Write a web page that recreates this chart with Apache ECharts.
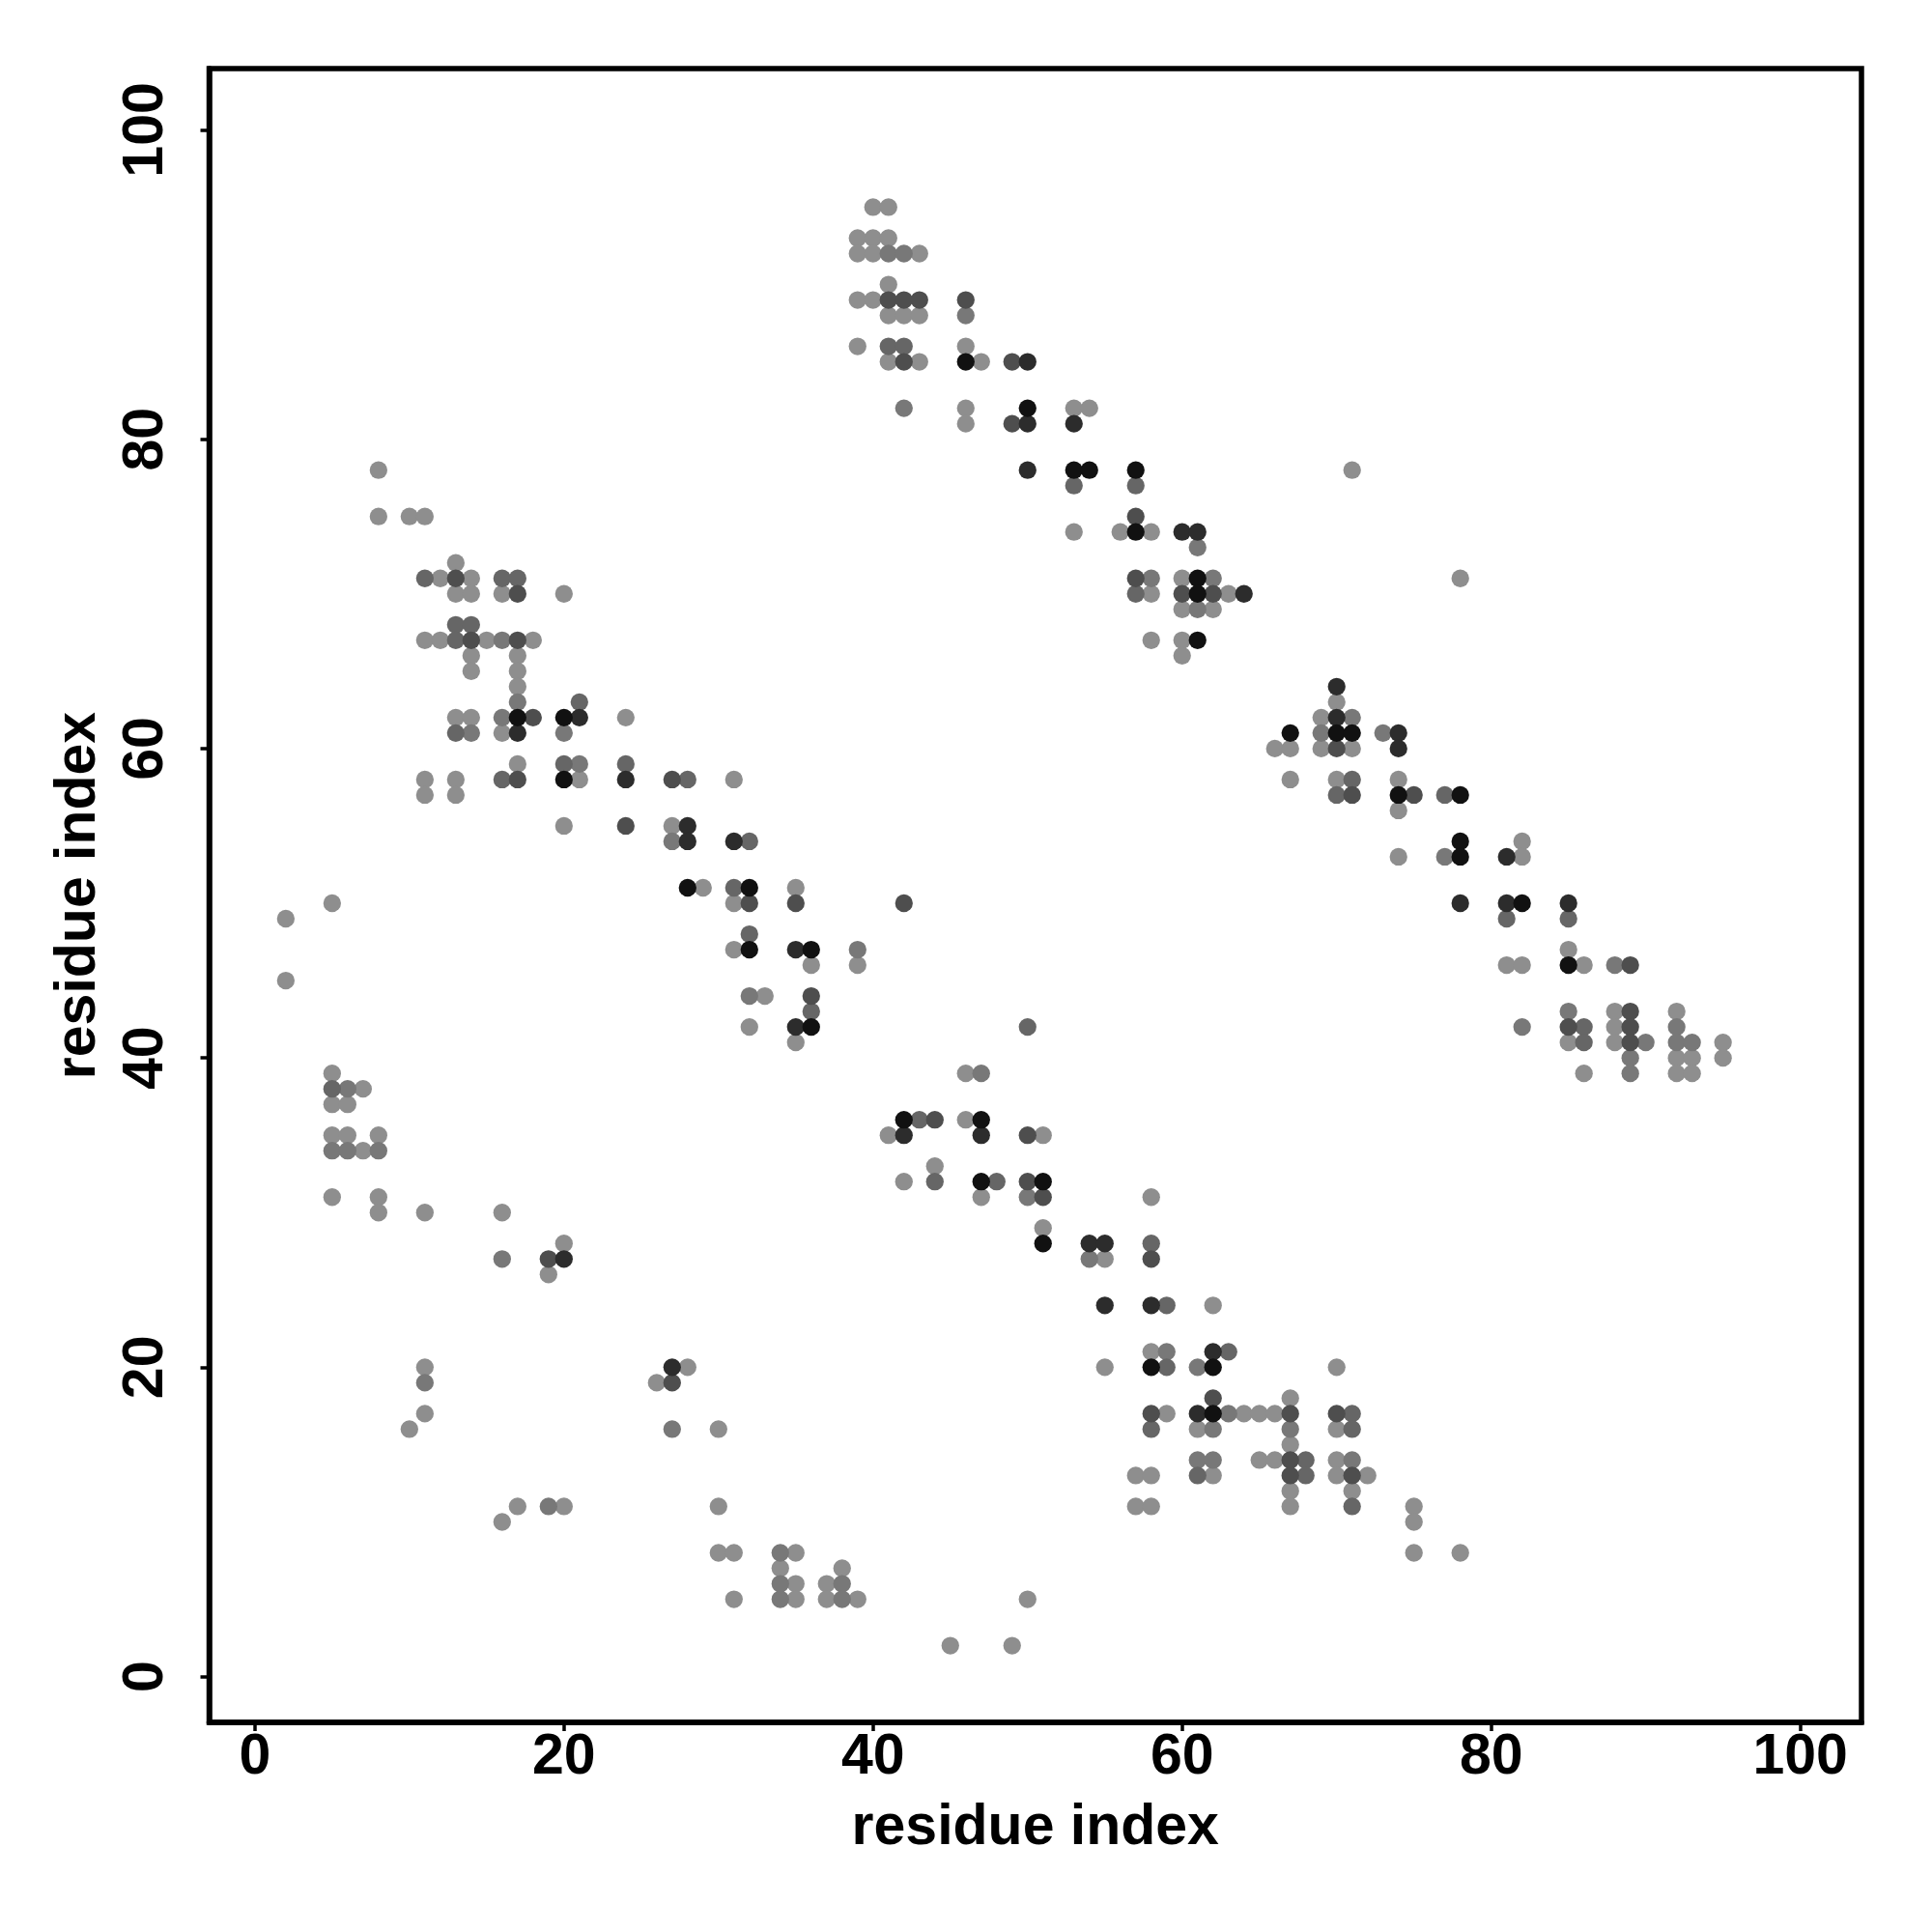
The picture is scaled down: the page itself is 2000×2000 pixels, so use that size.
<!DOCTYPE html>
<html>
<head>
<meta charset="utf-8">
<script src="https://cdn.jsdelivr.net/npm/echarts@6/dist/echarts.min.js"></script>
<style>
  html, body { margin: 0; padding: 0; background: #fff; }
  #chart { width: 2000px; height: 2000px; }
</style>
</head>
<body>
<div id="chart"></div>
<script>
// residue pairs (i, j) grouped by contact shade (1 = lightest grey ... 6 = black)
const shade1 = [
  [40,95],[41,95],[39,93],[40,93],[41,93],[39,92],[40,92],[43,92],[41,90],[39,89],[40,89],[41,88],[42,88],[43,88],
  [39,86],[46,86],[41,85],[43,85],[47,85],[46,82],[53,82],[54,82],[46,81],[53,74],[56,74],[58,74],[60,71],[58,70],
  [63,70],[60,69],[62,69],[58,67],[60,67],[60,66],
  [71,78],[78,71],[70,63],[69,62],[66,60],[67,60],[69,60],[71,60],[67,58],[70,58],[74,58],[74,56],[82,54],[74,53],
  [82,53],[85,47],[81,46],[82,46],[86,46],[88,43],[92,43],[88,42],[85,41],[88,41],[95,41],[92,40],[93,40],[95,40],
  [86,39],[92,39],[93,39],
  [8,78],[8,75],[10,75],[11,75],[13,72],[12,71],[14,71],[13,70],[14,70],[16,70],[20,70],[11,67],[12,67],[15,67],
  [18,67],[14,66],[17,66],[14,65],[17,65],[17,64],[13,62],[14,62],[24,62],[16,61],[17,59],[11,58],[13,58],[21,58],
  [31,58],[11,57],[13,57],[20,55],[27,55],[29,51],[35,51],[31,50],[31,47],[36,46],[39,46],[33,44],[32,42],[35,41],
  [46,39],[46,36],[41,35],[51,35],[44,33],[42,32],[47,31],[58,31],[51,29],[55,27],[62,24],[58,21],[55,20],[70,20],
  [67,18],[59,17],[64,17],[65,17],[66,17],[61,16],[70,16],[67,15],[65,14],[66,14],[70,14],[57,13],[58,13],[62,13],
  [70,13],[72,13],[67,12],[71,12],[57,11],[58,11],[67,11],[75,11],[75,10],[75,8],[78,8],
  [5,50],[2,49],[2,45],[5,39],[7,38],[5,37],[6,37],[5,35],[6,35],[8,35],[7,34],[5,31],[8,31],[8,30],[11,30],[16,30],
  [20,28],[19,26],[11,20],[28,20],[26,19],[11,17],[10,16],[30,16],[17,11],[20,11],[30,11],[16,10],[30,8],[31,8],
  [35,8],[34,7],[38,7],[35,6],[37,6],[31,5],[35,5],[37,5],[39,5],[50,5],[45,2],[49,2]
];
const shade2 = [
  [41,92],[42,92],[46,88],[42,82],[61,73],[58,71],[62,71],[61,69],
  [71,62],[69,61],[73,61],[77,53],[88,46],[85,43],[82,42],[92,42],[90,41],[92,41],[93,41],[89,40],[89,39],
  [16,67],[17,63],[16,62],[14,61],[20,61],[21,59],[27,54],[39,47],[32,44],
  [47,39],[50,31],[54,27],[59,21],[61,20],[63,17],[62,16],[67,16],[61,14],[62,14],[71,14],
  [6,38],[5,34],[6,34],[8,34],[16,27],[11,19],[27,16],[19,11],[34,8],[34,6],[34,5],[38,6],[38,5]
];
const shade3 = [
  [41,86],[42,86],[53,77],[57,77],[57,70],
  [71,58],[70,57],[77,57],[81,49],[85,49],[86,42],[86,41],
  [11,71],[16,71],[17,71],[13,68],[14,68],[13,67],[21,63],[13,61],[20,59],[24,59],[16,58],[28,58],[32,54],[31,51],
  [32,48],[36,43],[50,42],
  [43,36],[44,32],[48,32],[58,28],[59,24],[63,21],[59,20],[58,16],[71,17],[71,16],[68,14],[61,13],[68,13],[71,11],
  [5,38]
];
const shade4 = [
  [41,89],[42,89],[43,89],[46,89],[42,85],[49,85],[49,81],[57,75],[57,71],[60,70],[62,70],
  [70,60],[71,57],[75,57],[89,46],[89,43],[85,42],[89,42],[89,41],
  [13,71],[17,70],[14,67],[17,67],[18,62],[17,58],[27,58],[24,55],[32,50],[35,50],[42,50],[36,44],
  [44,36],[50,35],[50,32],[51,31],[58,27],[62,18],[58,17],[67,17],[70,17],[67,14],[67,13],[71,13],
  [19,27],[27,19]
];
const shade5 = [
  [50,85],[50,81],[53,81],[50,78],[60,74],[61,74],[64,70],
  [70,64],[70,62],[74,61],[74,60],[81,53],[78,50],[81,50],[85,50],
  [21,62],[17,61],[24,58],[28,55],[28,54],[31,54],[35,47],[35,42],
  [42,35],[47,35],[54,28],[55,28],[55,24],[58,24],[62,21],[61,17],
  [20,27],[27,20]
];
const shade6 = [
  [46,85],[50,82],[53,78],[54,78],[57,78],[57,74],[61,71],[61,70],[61,67],
  [67,61],[70,61],[71,61],[74,57],[78,57],[78,54],[78,53],[82,50],[85,46],
  [17,62],[20,62],[20,58],[28,51],[32,51],[32,47],[36,47],[36,42],
  [42,36],[47,36],[47,32],[51,32],[51,28],[58,20],[62,20],[62,17]
];
const tickValues = [0, 20, 40, 60, 80, 100];
const axisTitle = 'residue index';

const shadeSets = [shade1, shade2, shade3, shade4, shade5, shade6];
const shadeColors = ['#8e8e8e', '#787878', '#666666', '#4e4e4e', '#2c2c2c', '#111111'];

const font = 'Liberation Sans, Arial, Helvetica, sans-serif';
const axisMin = -2.96, axisMax = 103.96;

function makeAxis(isY) {
  return {
    type: 'value',
    min: axisMin,
    max: axisMax,
    name: axisTitle,
    nameLocation: 'middle',
    nameGap: isY ? 105 : 80,
    nameTextStyle: { fontFamily: font, fontWeight: 'bold', fontSize: 59, color: '#000' },
    axisLine: { show: true, onZero: false, lineStyle: { color: '#000', width: 5.5 } },
    axisTick: { show: true, length: 9, inside: false, customValues: tickValues,
                lineStyle: { color: '#000', width: 3.5 } },
    axisLabel: { show: true, customValues: tickValues, rotate: isY ? 90 : 0,
                 margin: isY ? 35 : 7,
                 fontFamily: font, fontWeight: 'bold', fontSize: 59, color: '#000' },
    splitLine: { show: false }
  };
}

const chart = echarts.init(document.getElementById('chart'), null, { renderer: 'canvas' });
chart.setOption({
  backgroundColor: '#ffffff',
  animation: false,
  grid: { left: 216.5, right: 73, top: 71, bottom: 217, show: true,
          borderColor: '#000', borderWidth: 5.5, backgroundColor: 'transparent' },
  xAxis: makeAxis(false),
  yAxis: makeAxis(true),
  series: shadeSets.map((pts, k) => ({
    type: 'scatter',
    name: 'shade' + (k + 1),
    data: pts,
    symbol: 'circle',
    symbolSize: 18.3,
    itemStyle: { color: shadeColors[k], opacity: 1 },
    z: 2 + k
  }))
});
</script>
</body>
</html>
